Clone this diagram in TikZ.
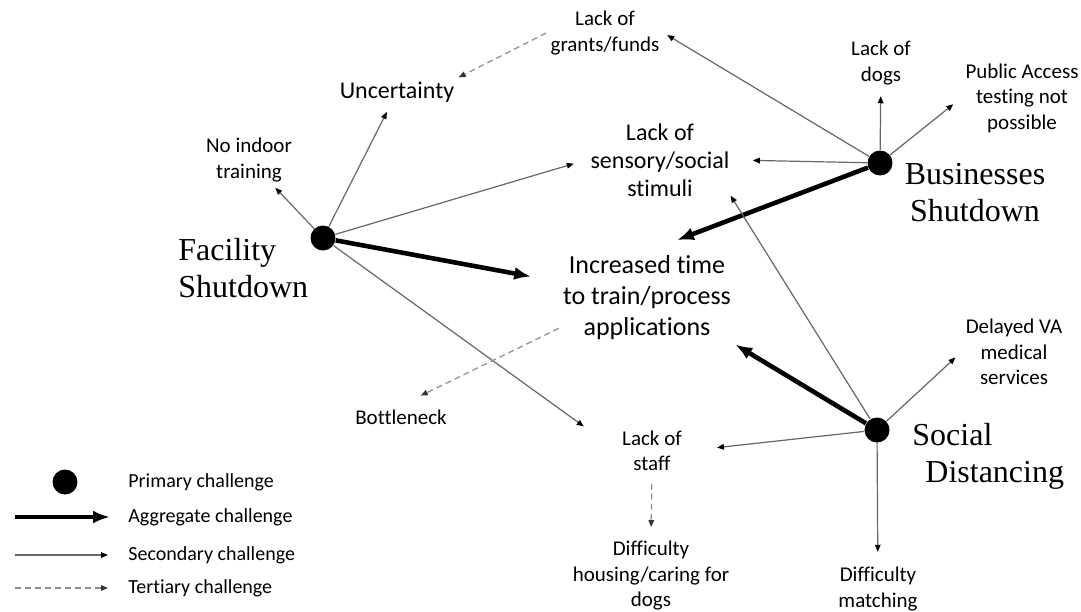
\documentclass[tikz,border=0pt]{standalone}
\usepackage{fontspec}
\setmainfont{Carlito}[Ligatures=NoCommon]
\newfontfamily\serifbig{Liberation Serif}
\usetikzlibrary{arrows.meta,positioning}

\begin{document}
\begin{tikzpicture}[x=0.5pt,y=-0.5pt]
    \tikzset{Primary/.style={%
            shape=circle,%
            fill=black,%
            minimum size=12.5pt,%
            inner sep=0pt,%
        },
        Small/.style={align=center, inner sep=2pt, font=\fontsize{10.5}{12.75}\selectfont},
        Key/.style={anchor=west, inner sep=2pt, font=\fontsize{10}{12}\selectfont},
        Big/.style={inner sep=2pt, font=\serifbig\fontsize{16}{18.5}\selectfont},
        Aggregate/.style={-{Latex[length=8.5pt,width=6.5pt]}, line width=2.3pt},
        Secondary/.style={-{Triangle[length=3.5pt,width=2.8pt,color=black]}, draw=black!60, line width=0.6pt},
        Tertiary/.style={-{Triangle[length=3.5pt,width=2.8pt,color=black!80]}, draw=black!45, line width=0.6pt, dash pattern=on 3pt off 2pt}}
    \useasboundingbox (0,0) rectangle (1081,611);

    % primary challenges
    \node[Primary] (fac) at (323,238) {};
    \node[Primary] (bus) at (880,163) {};
    \node[Primary] (soc) at (877,430) {};
    \node[Big, align=left, anchor=west] (facname) at (174,268) {Facility\\Shutdown};
    \node[Big, align=center] (busname) at (975,193) {Businesses\\Shutdown};
    \node[Big, align=left, anchor=west] (socname) at (908,456) {Social\\\hspace*{6.5pt}Distancing};

    % effects
    \node[Small, font=\fontsize{13}{15.5}\selectfont] (ctr) at (647,298) {Increased time\\to train/process\\applications};
    \node[Small, font=\fontsize{12}{14}\selectfont] (sens) at (660,160) {Lack of\\sensory/social\\stimuli};
    \node[Small, font=\fontsize{12}{14}\selectfont] (unc) at (397,92) {Uncertainty};
    \node[Small] (grants) at (605,33) {Lack of\\grants/funds};
    \node[Small] (dogs) at (881,63) {Lack of\\dogs};
    \node[Small] (pub) at (1022,98) {Public Access\\testing not\\possible};
    \node[Small] (noind) at (249,160) {No indoor\\training};
    \node[Small] (va) at (1014,352) {Delayed VA\\medical\\services};
    \node[Small] (bottle) at (401,417) {Bottleneck};
    \node[Small] (staff) at (652,451) {Lack of\\staff};
    \node[Small] (housing) at (651,576) {Difficulty\\housing/caring for\\dogs};
    \node[Small] (match) at (878,589) {Difficulty\\matching};

    \path (fac) edge[Aggregate, shorten >=14pt] (ctr);
    \path (bus) edge[Aggregate, shorten >=16pt] (ctr.north);
    \path (soc) edge[Aggregate] (ctr.south east);

    \path (fac) edge[Secondary, shorten >=1pt] (noind);
    \path (fac) edge[Secondary, shorten >=3pt] (unc);
    \path (fac) edge[Secondary, shorten >=6.5pt] (sens.west);
    \path (fac) edge[Secondary, shorten >=21pt] (staff.west);
    \path (bus) edge[Secondary, shorten >=2pt] (grants.east);
    \path (bus) edge[Secondary, shorten >=3.5pt] (dogs);
    \path (bus) edge[Secondary, shorten >=5pt] (pub.west);
    \path (bus) edge[Secondary, shorten >=9.5pt] (sens.east);
    \path (soc) edge[Secondary, shorten >=-3pt] (sens.south east);
    \path (soc) edge[Secondary, shorten >=4pt] (va.west);
    \path (soc) edge[Secondary, shorten >=15.5pt] (staff.east);
    \path (soc) edge[Secondary, shorten >=5.5pt] (match);

    \path (grants.west) edge[Tertiary] (unc.north east);
    \path (ctr.199) edge[Tertiary, shorten >=11pt] (bottle.north);
    \path (staff.south) edge[Tertiary, shorten <=4pt, shorten >=5pt] (housing.north);

    % legend
    \node[Primary] (keydot) at (65,482) {};
    \node[Key] (keyprim) at (124,482) {Primary challenge};
    \node[Key] (keyagg) at (124,517) {Aggregate challenge};
    \node[Key] (keysec) at (124,555) {Secondary challenge};
    \node[Key] (keyter) at (124,588) {Tertiary challenge};
    \coordinate (agga) at (15,517);
    \coordinate (aggb) at (110,517);
    \coordinate (seca) at (15,555);
    \coordinate (secb) at (108,555);
    \coordinate (tera) at (15,588);
    \coordinate (terb) at (108,588);
    \path (agga) edge[Aggregate] (aggb);
    \path (seca) edge[Secondary] (secb);
    \path (tera) edge[Tertiary] (terb);
\end{tikzpicture}
\end{document}
